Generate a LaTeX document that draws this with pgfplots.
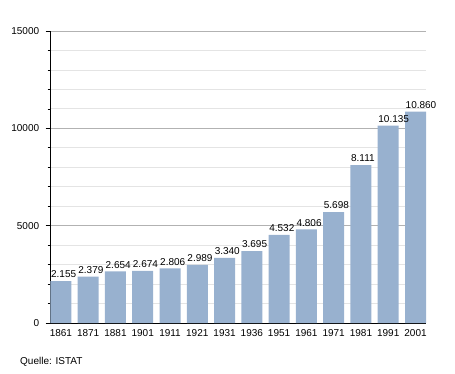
\documentclass[border=0pt]{standalone}
\usepackage{fontspec}
\setmainfont{Liberation Sans}
\usepackage{pgfplots}
\pgfplotsset{compat=1.18}
\definecolor{barc}{RGB}{152,177,207}
\definecolor{majg}{RGB}{178,178,178}
\definecolor{ming}{RGB}{228,228,228}
\begin{document}
\begin{tikzpicture}
\useasboundingbox (0pt,0pt) rectangle (455pt,-373pt);
\begin{axis}[
  at={(50pt,-323pt)}, anchor=south west,
  scale only axis, width=376pt, height=292pt,
  xmin=-0.40, xmax=13.385, ymin=0, ymax=15000,
  axis x line*=bottom, axis y line*=left,
  axis line style={black, line width=0.8pt, -},
  xtick={0,...,13},
  xticklabels={1861,1871,1881,1901,1911,1921,1931,1936,1951,1961,1971,1981,1991,2001},
  x tick style={draw=none},
  ytick={0,5000,10000,15000},
  minor y tick num=4,
  tick align=outside,
  major tick length=4.3pt, minor tick length=2.3pt,
  y tick style={black, line width=0.7pt},
  ymajorgrids, yminorgrids,
  major grid style={majg, line width=0.8pt},
  minor grid style={ming, line width=0.8pt},
  tick label style={font=\fontsize{10}{12}\selectfont},
  /pgf/number format/assume math mode=true,
  yticklabel style={/pgf/number format/1000 sep={}, xshift=-3pt},
  xticklabel style={yshift=1pt},
  scaled y ticks=false,
  ybar, bar width=21pt,
  bar shift=0pt,
  nodes near coords,
  every node near coord/.append style={font=\fontsize{10}{12}\selectfont, anchor=south west, xshift=-10.5pt, inner sep=0.5pt, yshift=2.5pt, /pgf/number format/1000 sep={.}},
  clip=false,
]
\addplot[fill=barc, draw=none] coordinates {
(0,2155) (1,2379) (2,2654) (3,2674) (4,2806) (5,2989) (6,3340)
(7,3695) (8,4532) (9,4806) (10,5698) (11,8111) (12,10135) (13,10860)};
\end{axis}
\node[anchor=west, inner sep=0pt, font=\fontsize{10}{12}\selectfont] at (20pt,-362pt) {Quelle: ISTAT};
\end{tikzpicture}
\end{document}
